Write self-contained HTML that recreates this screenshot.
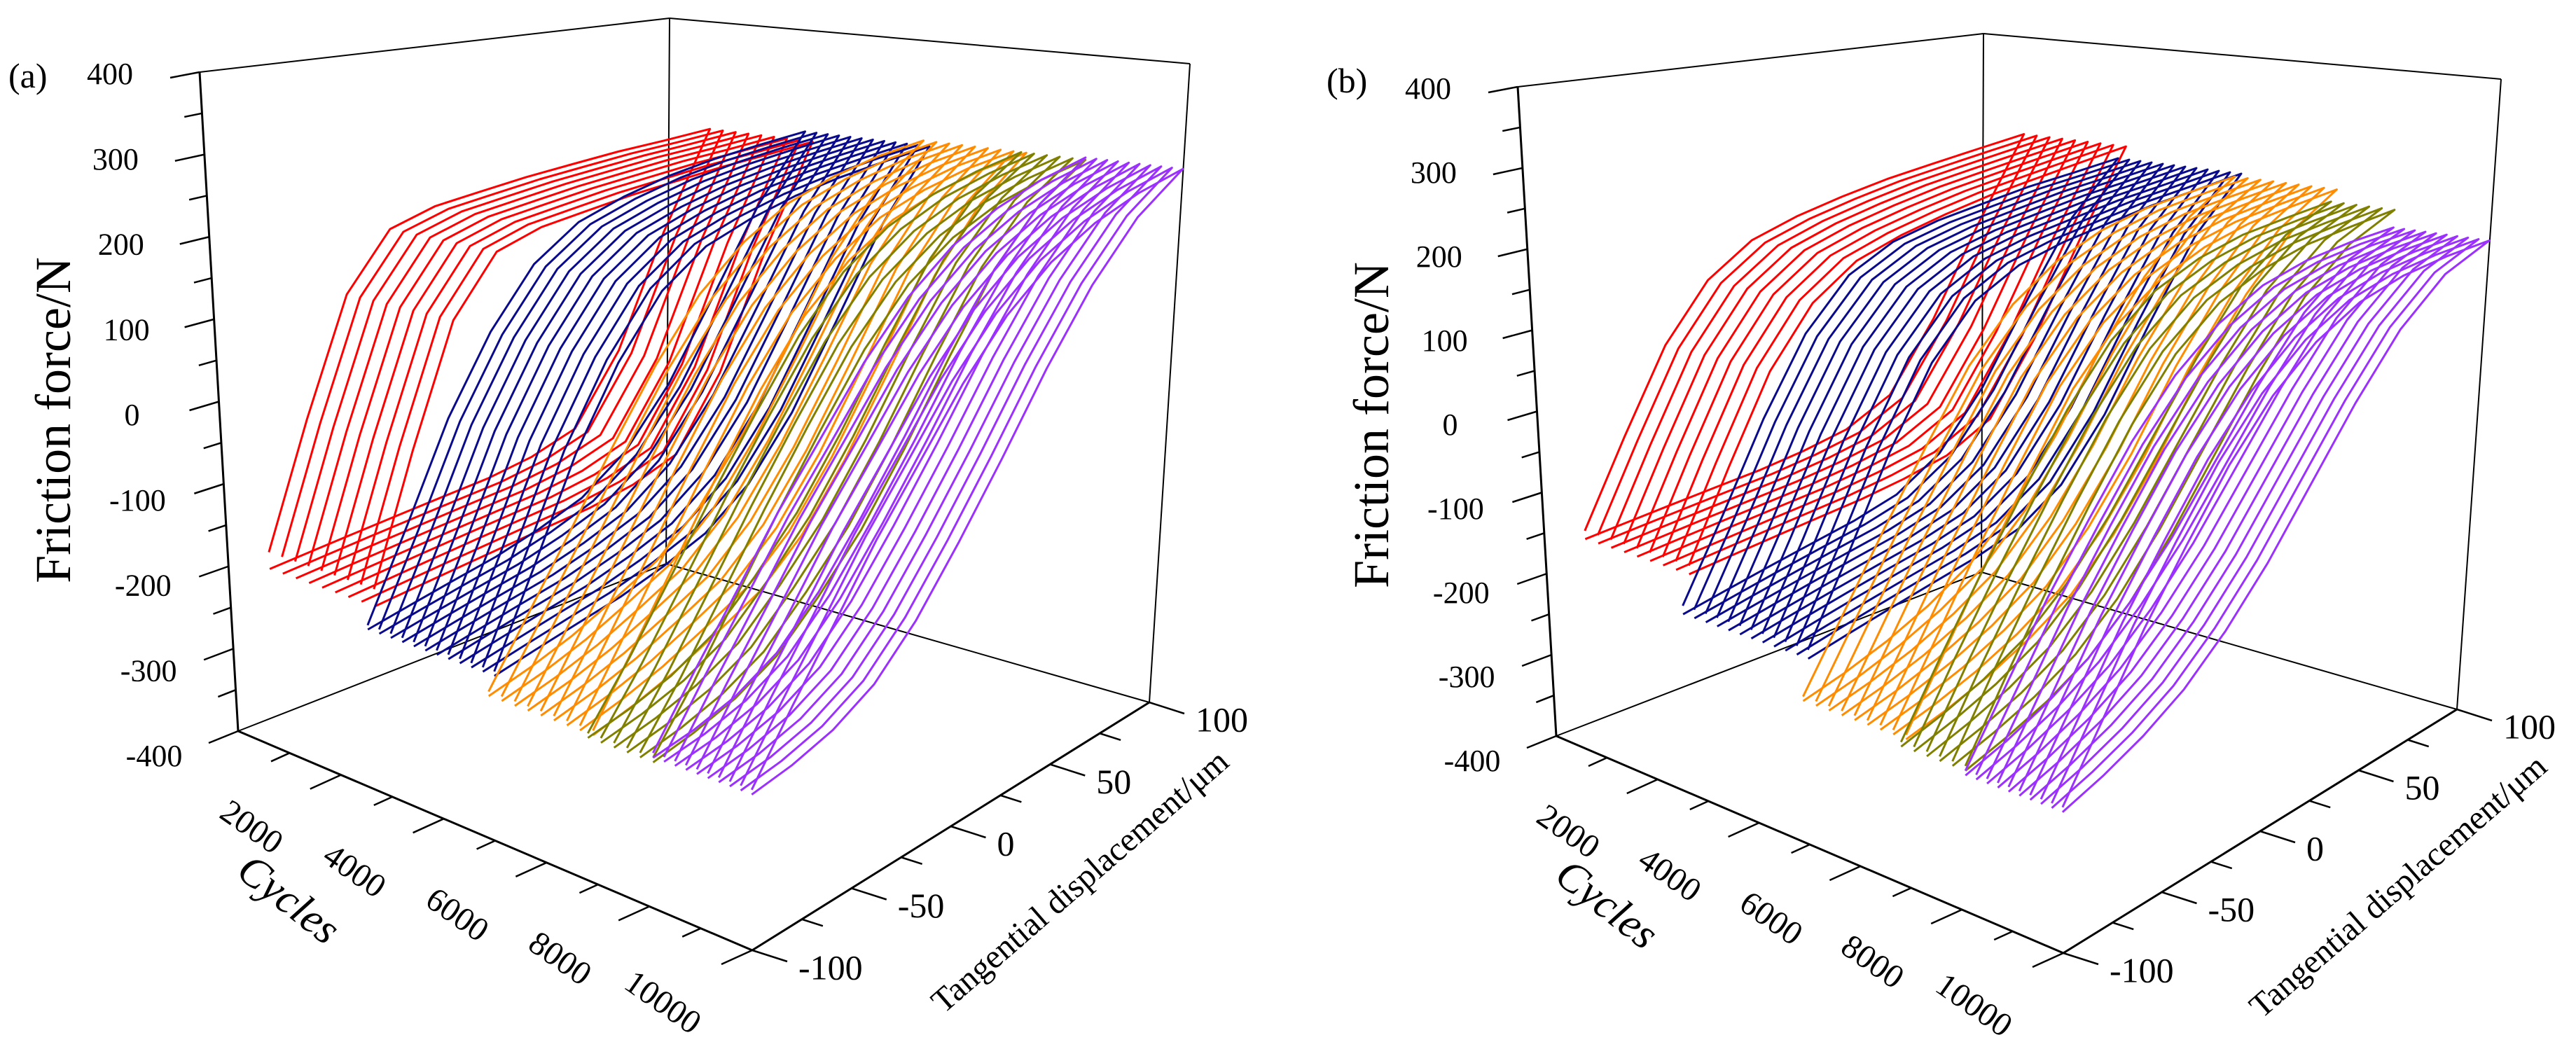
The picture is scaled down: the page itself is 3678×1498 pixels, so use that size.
<!DOCTYPE html>
<html><head><meta charset="utf-8">
<style>
html,body{margin:0;padding:0;background:#fff;}
svg{display:block;font-family:"Liberation Serif",serif;}
</style></head>
<body>
<svg id="chart" xmlns="http://www.w3.org/2000/svg" width="3678" height="1498" viewBox="0 0 3678 1498">
<rect width="3678" height="1498" fill="#fff"/>
</svg>
<script>
// ---- data ----
const forceTicks = [-400,-300,-200,-100,0,100,200,300,400];
const cycleTicks = [2000,4000,6000,8000,10000];
const dispTicks = [-100,-50,0,50,100];
const groupColors = ['#ff0000','#0a0a8c','#ff8c00','#808000','#9b30ff'];
const cyclesRed = [800,1050,1300,1550,1800,2050,2300,2550,2800];
const cyclesNavy = [2650,2870,3090,3310,3530,3750,3970,4190,4410,4630,4850,5070];
const cyclesOrange = [4950,5200,5450,5700,5950,6200,6450,6700,6950];
const cyclesOlive = [6850,7100,7350,7600,7850,8100];
const cyclesPurple = [8100,8310,8520,8730,8940,9150,9360,9570,9780,9990];
// displacement grid (µm) for loop branches
const dispGrid = [-100,-80,-60,-40,-20,0,20,40,60,80,100];
// panel (a) loading / unloading branch forces (N) per group
const aRedUp = [-165,-20,120,190,208,216,224,230,236,240,245];
const aRedDown = [-185,-180,-175,-170,-165,-160,-150,-130,-40,110,245];
const aNavyUp = [-210,-110,0,90,160,200,220,235,245,252,258];
const aNavyDown = [-215,-205,-195,-185,-170,-150,-110,-40,60,170,258];
const aOrangeUp = [-235,-165,-90,-10,70,140,190,225,245,258,265];
const aOrangeDown = [-240,-228,-212,-190,-165,-120,-50,40,140,215,265];
const aOliveUp = [-240,-180,-110,-35,40,115,175,215,240,255,265];
const aOliveDown = [-245,-235,-220,-195,-150,-95,-20,70,160,225,265];
const aPurpleUp = [-235,-170,-105,-35,30,100,160,205,235,255,268];
const aPurpleDown = [-240,-232,-218,-192,-145,-80,-5,80,160,225,268];
// panel (b)
const bRedUp = [-130,-30,70,140,180,200,215,228,238,248,258];
const bRedDown = [-140,-135,-130,-125,-120,-112,-100,-70,20,140,258];
const bNavyUp = [-180,-90,10,100,160,190,205,215,225,232,240];
const bNavyDown = [-190,-180,-170,-160,-150,-135,-100,-30,70,170,240];
const bOrangeUp = [-235,-160,-80,0,80,140,180,205,220,228,235];
const bOrangeDown = [-240,-228,-212,-190,-160,-110,-40,50,130,195,235];
const bOliveUp = [-245,-170,-95,-20,55,120,165,190,205,212,218];
const bOliveDown = [-250,-236,-218,-192,-150,-90,-15,65,140,190,218];
const bPurpleUp = [-250,-180,-105,-35,35,95,140,170,185,192,195];
const bPurpleDown = [-255,-240,-220,-192,-150,-95,-25,50,120,170,195];

const panelCorners = {
  a:{LB:[340,1044],FB:[1074,1357],BB:[951,805],RB:[1641,1003],LT:[285,103],FT:[1074,247],BT:[956,26],RT:[1699,91]},
  b:{LB:[2222,1051],FB:[2946,1361],BB:[2829,817],RB:[3508,1013],LT:[2167,124],FT:[2944,252],BT:[2832,48],RT:[3571,113]}
};
const groups = [cyclesRed,cyclesNavy,cyclesOrange,cyclesOlive,cyclesPurple];
const groupNames = ['red','navy','orange','olive','purple'];
const shapesA = [[aRedUp,aRedDown],[aNavyUp,aNavyDown],[aOrangeUp,aOrangeDown],[aOliveUp,aOliveDown],[aPurpleUp,aPurpleDown]];
const shapesB = [[bRedUp,bRedDown],[bNavyUp,bNavyDown],[bOrangeUp,bOrangeDown],[bOliveUp,bOliveDown],[bPurpleUp,bPurpleDown]];

const NS='http://www.w3.org/2000/svg';
const svg=document.getElementById('chart');
function mk(tag,attrs,parent){const e=document.createElementNS(NS,tag);for(const k in attrs)e.setAttribute(k,attrs[k]);(parent||svg).appendChild(e);return e;}

function makeProj(C){
  return function(c,d,f){
    const u=(c-0)/10000, v=(d+100)/200, w=(f+400)/800;
    const bl=(P,Q,R,S)=>[ (1-u)*(1-v)*P[0]+u*(1-v)*Q[0]+(1-u)*v*R[0]+u*v*S[0],
                           (1-u)*(1-v)*P[1]+u*(1-v)*Q[1]+(1-u)*v*R[1]+u*v*S[1] ];
    const b=bl(C.LB,C.FB,C.BB,C.RB), t=bl(C.LT,C.FT,C.BT,C.RT);
    return [b[0]+w*(t[0]-b[0]), b[1]+w*(t[1]-b[1])];
  };
}

function drawPanel(key,label,shapes){
  const C=panelCorners[key], P=makeProj(C);
  const g=mk('g',{});
  
  
  const line=(a,b,w,name)=>{const l=mk('line',{x1:a[0],y1:a[1],x2:b[0],y2:b[1],stroke:'#000','stroke-width':w},g);
    return l;};
  line(C.LT,C.BT,2,'box-top-left-edge');
  line(C.BT,C.RT,2,'box-top-right-edge');
  line(C.BT,C.BB,2,'box-back-vertical-edge');
  line(C.RT,C.RB,2,'box-right-vertical-edge');
  line(C.LB,C.BB,2,'box-bottom-back-left-edge');
  line(C.BB,C.RB,2,'box-bottom-back-right-edge');
  groups.forEach((cyc,gi)=>{
    const up=shapes[gi][0], down=shapes[gi][1];
    cyc.forEach((c)=>{
      let pts=[];
      for(let i=0;i<dispGrid.length;i++){const p=P(c,dispGrid[i],up[i]);pts.push(p[0].toFixed(1)+','+p[1].toFixed(1));}
      for(let i=dispGrid.length-1;i>=0;i--){const p=P(c,dispGrid[i],down[i]);pts.push(p[0].toFixed(1)+','+p[1].toFixed(1));}
      const pl=mk('polyline',{points:pts.join(' '),fill:'none',stroke:groupColors[gi],'stroke-width':3,'stroke-linejoin':'round'},g);
      
      
    });
  });
  line(C.LT,C.LB,3,'friction-axis-line');
  line(C.LB,C.FB,3,'cycles-axis-line');
  line(C.FB,C.RB,3,'displacement-axis-line');
  for(let f=-400;f<=400;f+=50){
    const p=P(0,-100,f), w=(f+400)/800, major=(f%100===0);
    const len=major?1:0.6;
    line(p,[p[0]-42*len,p[1]+(17-9*w)*len],2.5,'friction-tick');
  }
  forceTicks.forEach(f=>{
    const p=P(0,-100,f), w=(f+400)/800;
    const t=mk('text',{x:p[0]-120-8*w,y:p[1]+40-33*w,'font-size':44,'text-anchor':'middle','dominant-baseline':'middle',fill:'#000'},g);
    t.textContent=String(f);
    
  });
  for(let c=1000;c<=10000;c+=1000){
    const p=P(c,-100,-400), major=(c%2000===0), len=major?1:0.6;
    line(p,[p[0]-44*len,p[1]+20*len],2.5,'cycles-tick');
  }
  cycleTicks.forEach(c=>{
    const p=P(c,-100,-400);
    const x=p[0]-130, y=p[1]+78;
    const t=mk('text',{x:x,y:y,'font-size':48,'text-anchor':'middle','dominant-baseline':'middle',fill:'#000',transform:`rotate(35 ${x} ${y})`},g);
    t.textContent=String(c);
    
  });
  for(let d=-100;d<=100;d+=25){
    const p=P(10000,d,-400), major=(d%50===0), len=major?1:0.6;
    line(p,[p[0]+50*len,p[1]+16*len],2.5,'displacement-tick');
  }
  dispTicks.forEach(d=>{
    const p=P(10000,d,-400);
    const t=mk('text',{x:p[0]+66,y:p[1]+30,'font-size':50,'text-anchor':'start','dominant-baseline':'middle',fill:'#000'},g);
    t.textContent=String(d);
    
  });
  const ox=C.LB[0]-340, oy=C.LB[1]-1044;
  let t=mk('text',{x:12+ox,y:125+oy,'font-size':50,fill:'#000'},g);t.textContent=label;
  
  t=mk('text',{x:100+ox,y:600+oy,'font-size':72,'text-anchor':'middle',fill:'#000',transform:`rotate(-90 ${100+ox} ${600+oy})`},g);
  t.textContent='Friction force/N';
  
  t=mk('text',{x:400+ox,y:1300+oy,'font-size':62,'font-style':'italic','text-anchor':'middle',fill:'#000',transform:`rotate(38 ${400+ox} ${1300+oy})`},g);
  t.textContent='Cycles';
  
  t=mk('text',{x:1545+ox,y:1262+oy,'font-size':48,'text-anchor':'middle','dominant-baseline':'middle',fill:'#000',transform:`rotate(-41 ${1545+ox} ${1262+oy})`},g);
  t.textContent='Tangential displacement/μm';
  
}
drawPanel('a','(a)',shapesA);
drawPanel('b','(b)',shapesB);
</script>
</body></html>
